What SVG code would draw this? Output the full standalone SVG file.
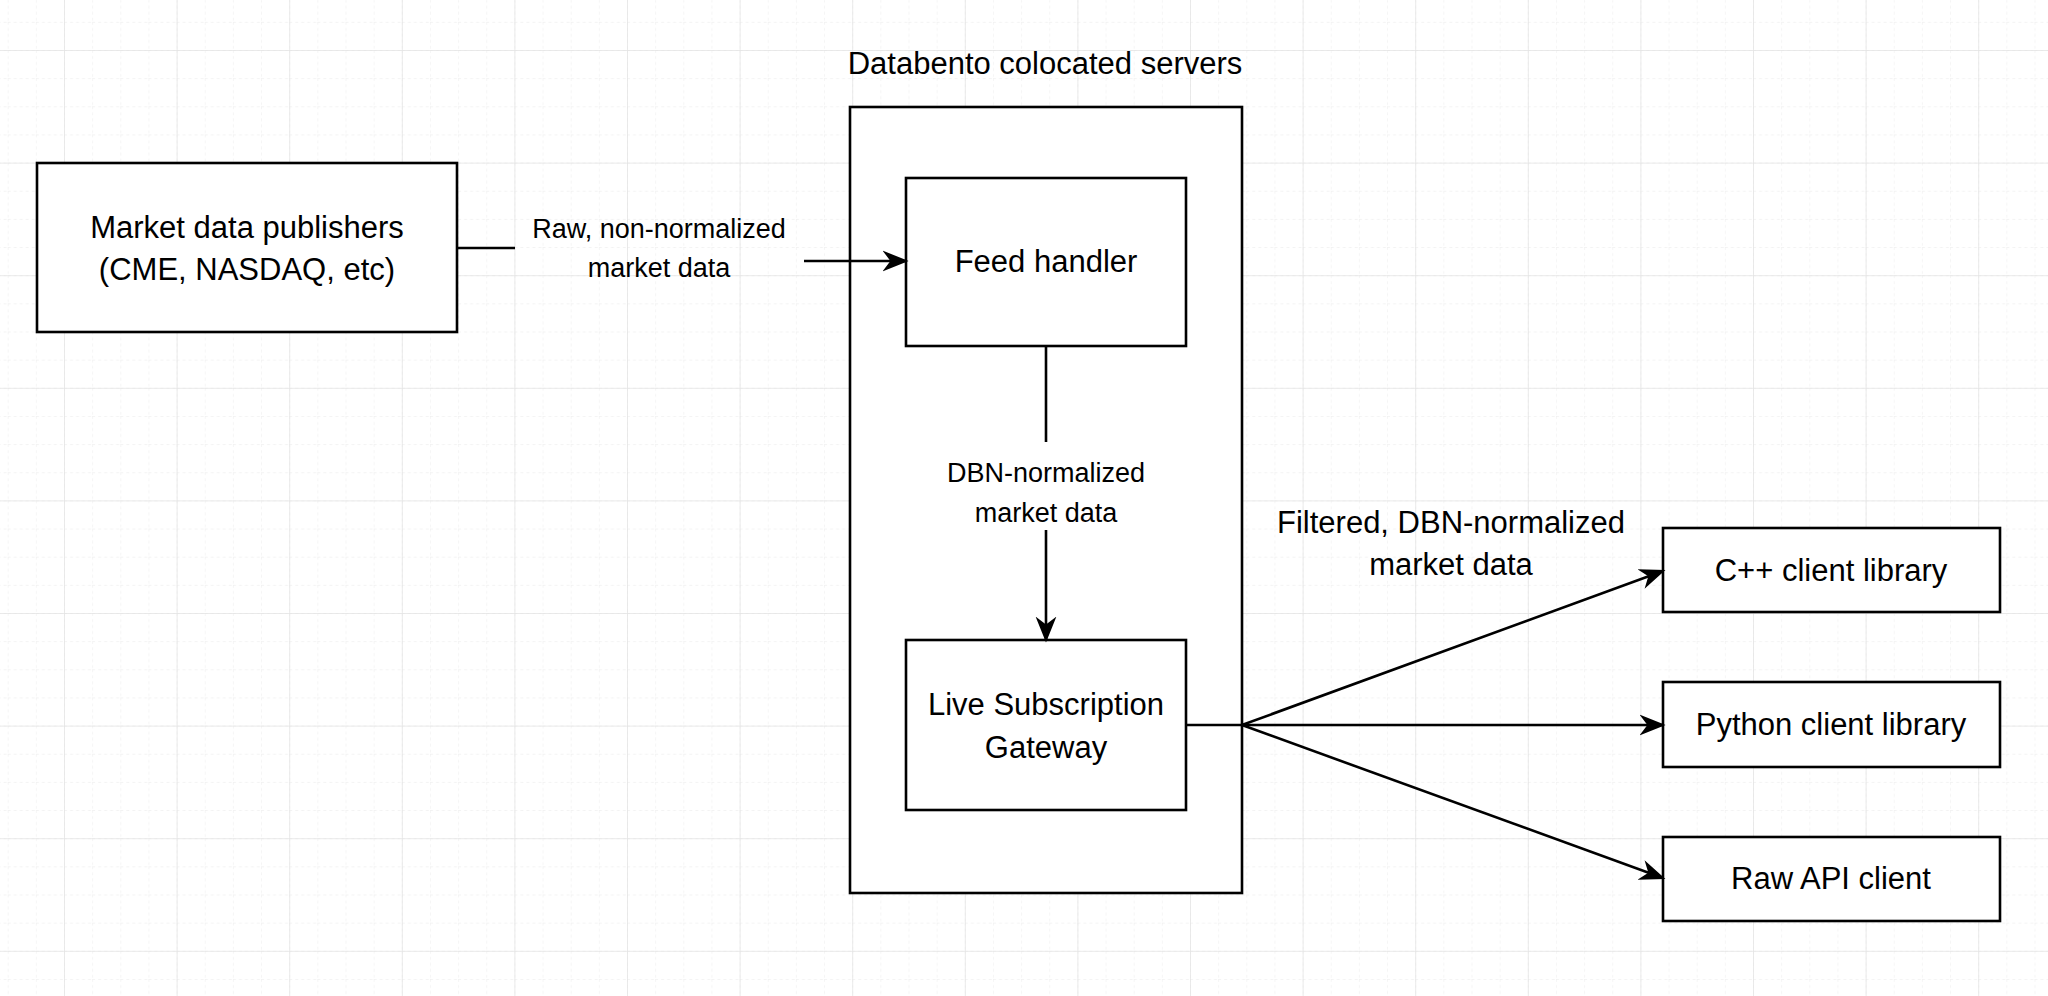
<svg xmlns="http://www.w3.org/2000/svg" width="2048" height="996" viewBox="0 0 2048 996">
<style>
.n{fill:#fff;stroke:#000;stroke-width:2.6}
.t{font-family:"Liberation Sans",Arial,sans-serif;font-size:31px;text-anchor:middle;fill:#000}
.l{font-family:"Liberation Sans",Arial,sans-serif;font-size:27px;text-anchor:middle;fill:#000}
.e{fill:none;stroke:#000;stroke-width:2.6}
</style>
<defs>
<pattern id="minor" x="64" y="50" width="28.15" height="28.15" patternUnits="userSpaceOnUse">
<path d="M0 0H28.15M0 0V28.15" fill="none" stroke="#f0f0f0" stroke-width="1.3" stroke-dasharray="3 3"/>
</pattern>
<pattern id="major" x="64" y="50" width="112.6" height="112.6" patternUnits="userSpaceOnUse">
<path d="M0 0H112.6M0 0V112.6" fill="none" stroke="#e4e4e4" stroke-width="1.5"/>
</pattern>
<marker id="a" viewBox="0 0 10 10" refX="9" refY="5" markerWidth="10" markerHeight="10" markerUnits="userSpaceOnUse" orient="auto">
<path d="M0 0L10 5L0 10L3 5Z" fill="#000"/>
</marker>
<marker id="b" viewBox="0 0 10 10" refX="9" refY="5" markerWidth="26" markerHeight="26" markerUnits="userSpaceOnUse" orient="auto">
<path d="M0 1L10 5L0 9L3 5Z" fill="#000"/>
</marker>
</defs>
<rect width="2048" height="996" fill="#fff"/>
<rect width="2048" height="996" fill="url(#minor)"/>
<rect width="2048" height="996" fill="url(#major)"/>
<g id="container">
<rect class="n" x="850" y="107" width="392" height="786"/>
<text class="t" x="1045" y="74">Databento colocated servers</text>
</g>
<g id="publishers">
<rect class="n" x="37" y="163" width="420" height="169"/>
<text class="t" x="247" y="238">Market data publishers</text>
<text class="t" x="247" y="280">(CME, NASDAQ, etc)</text>
</g>
<g id="feed">
<rect class="n" x="906" y="178" width="280" height="168"/>
<text class="t" x="1046" y="272">Feed handler</text>
</g>
<g id="gateway">
<rect class="n" x="906" y="640" width="280" height="170"/>
<text class="t" x="1046" y="715">Live Subscription</text>
<text class="t" x="1046" y="758">Gateway</text>
</g>
<g id="cpp">
<rect class="n" x="1663" y="528" width="337" height="84"/>
<text class="t" x="1831" y="581">C++ client library</text>
</g>
<g id="python">
<rect class="n" x="1663" y="682" width="337" height="85"/>
<text class="t" x="1831" y="735">Python client library</text>
</g>
<g id="rawapi">
<rect class="n" x="1663" y="837" width="337" height="84"/>
<text class="t" x="1831" y="889">Raw API client</text>
</g>
<g id="connectors">
<path class="e" d="M457 248H515"/>
<path class="e" d="M804 261H906" marker-end="url(#b)"/>
<text class="l" x="659" y="238">Raw, non-normalized</text>
<text class="l" x="659" y="277">market data</text>
<path class="e" d="M1046 346V442"/>
<path class="e" d="M1046 530V640" marker-end="url(#b)"/>
<text class="l" x="1046" y="482">DBN-normalized</text>
<text class="l" x="1046" y="522">market data</text>
<path class="e" d="M1186 725H1242L1663 571" marker-end="url(#b)"/>
<path class="e" d="M1242 725H1663" marker-end="url(#b)"/>
<path class="e" d="M1242 725L1663 878" marker-end="url(#b)"/>
<text class="t" x="1451" y="533">Filtered, DBN-normalized</text>
<text class="t" x="1451" y="575">market data</text>
</g>
</svg>
